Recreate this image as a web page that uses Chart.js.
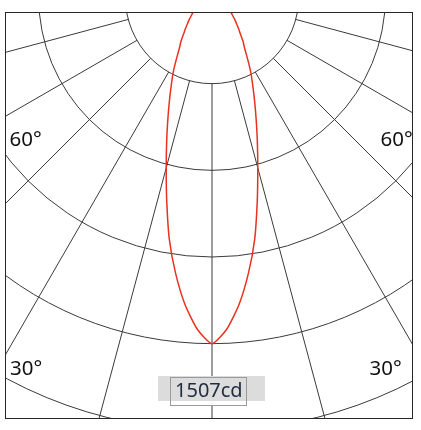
<!DOCTYPE html>
<html>
<head>
<meta charset="utf-8">
<script src="https://cdn.jsdelivr.net/npm/chart.js@4/dist/chart.umd.min.js"></script>
<style>
  body { margin: 0; background: #fff; width: 421px; height: 430px; overflow: hidden; }
  #frame { position: absolute; left: 5px; top: 12px; width: 408px; height: 407px;
           box-sizing: border-box; border: 1.5px solid #2b2626; overflow: hidden; }
  #c { position: absolute; left: -314px; top: -536px; }
  .deg { position: absolute; font: 20.5px "Noto Sans", sans-serif; line-height: 20px; color: #111; white-space: nowrap; }
  #maxWhite { position: absolute; left: 164px; top: 363.5px; width: 77px; height: 29px; background: #fff; }
  #maxBg { position: absolute; left: 151.5px; top: 362.5px; width: 107px; height: 25px; background: #dcdcdc; }
  #maxBox { position: absolute; left: 164px; top: 363.5px; width: 77px; height: 29px; box-sizing: border-box;
            border: 1px solid #9a9a9a; }
  #maxText { position: absolute; left: 4px; top: 2px; font: 20px "Noto Sans", sans-serif; line-height: 20px; color: #1f2b40; }
</style>
</head>
<body>
<div id="frame">
  <canvas id="c" width="1040" height="1040"></canvas>
  <div class="deg" style="left:3.5px; top:114.5px;">60°</div>
  <div class="deg" style="left:374.5px; top:114.5px;">60°</div>
  <div class="deg" style="left:4px; top:343.7px;">30°</div>
  <div class="deg" style="left:363.5px; top:343.7px;">30°</div>
  <div id="maxWhite"></div>
  <div id="maxBg"></div>
  <div id="maxBox"><span id="maxText">1507cd</span></div>
</div>
<script>
// gamma angles, 0° straight down, every 2.5°
var gammaLabels = [];
for (var g = 0; g < 360; g += 2.5) gammaLabels.push(g + '°');

// C0 plane, gamma 0..180 step 2.5 (cd)
var c0 = [1507, 1447, 1343, 1212, 1069, 909, 769, 655, 560, 482, 417, 363, 308, 264, 235, 203,
          180, 158, 141, 124, 111, 98, 88, 78, 69, 61, 54, 47, 41, 35, 30, 24, 19, 14, 10, 5, 0,
          0, 0, 0, 0, 0, 0, 0, 0, 0, 0, 0, 0, 0, 0, 0, 0, 0, 0, 0, 0, 0, 0,
          0, 0, 0, 0, 0, 0, 0, 0, 0, 0, 0, 0, 0, 0];
// C180 plane, gamma 0..180 step 2.5 (cd)
var c180 = [1507, 1447, 1343, 1212, 1069, 909, 769, 655, 560, 482, 417, 363, 308, 264, 235, 203,
            180, 158, 141, 124, 111, 98, 88, 78, 69, 61, 54, 47, 41, 35, 30, 24, 19, 14, 10, 5, 0,
            0, 0, 0, 0, 0, 0, 0, 0, 0, 0, 0, 0, 0, 0, 0, 0, 0, 0, 0, 0, 0, 0,
            0, 0, 0, 0, 0, 0, 0, 0, 0, 0, 0, 0, 0, 0];

var maxCd = 1507;
var ringStep = maxCd / 4;
var ringCount = 6;

// walk round the circle: C0 side 0..180, then C180 side back down to 2.5
var intensity = c0.slice();
for (var i = c180.length - 2; i >= 1; i--) intensity.push(c180[i]);

var gridColor = '#3a3a3a';

new Chart(document.getElementById('c'), {
    type: 'radar',
    data: {
        labels: gammaLabels,
        datasets: [{
            data: intensity,
            borderColor: '#e8321e',
            borderWidth: 1.5,
            pointRadius: 0,
            fill: false,
            tension: 0.2
        }]
    },
    options: {
        responsive: false,
        animation: false,
        layout: { padding: 0 },
        plugins: { legend: { display: false }, tooltip: { enabled: false } },
        scales: {
            r: {
                min: 0,
                max: ringStep * ringCount,
                startAngle: 180,
                ticks: { display: false, stepSize: ringStep },
                grid: { circular: true, color: gridColor, lineWidth: 1 },
                angleLines: {
                    color: gridColor,
                    // a spoke every 15°
                    lineWidth: function(ctx) { return ctx.index % 6 === 0 ? 1 : 0; },
                    // spokes start at the first ring
                    borderDash: function(ctx) {
                        var r0 = ctx.chart.scales.r.getDistanceFromCenterForValue(ringStep);
                        return [0, r0, 4000];
                    }
                },
                pointLabels: { display: false }
            }
        }
    }
});
</script>
</body>
</html>
